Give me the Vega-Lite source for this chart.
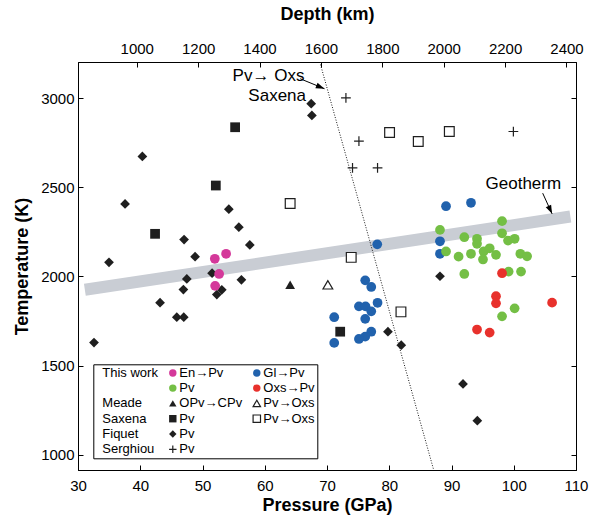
{
  "$schema": "https://vega.github.io/schema/vega-lite/v6.json",
  "width": 498,
  "height": 408,
  "autosize": "none",
  "padding": {"left": 78, "top": 62, "right": 14, "bottom": 46},
  "config": {
    "view": {"stroke": "black", "strokeWidth": 1},
    "font": "Liberation Sans",
    "axis": {
      "grid": false, "domainColor": "black", "domainWidth": 1, "tickColor": "black", "tickWidth": 1,
      "tickSize": -5, "labelPadding": 10, "labelFontSize": 15, "labelColor": "black",
      "labelFont": "Liberation Sans", "labelFlush": false, "labelOverlap": false, "format": "d",
      "titleFont": "Liberation Sans", "titleFontSize": 18, "titleFontWeight": "bold", "titleColor": "black"
    },
    "legend": {
      "labelFont": "Liberation Sans", "labelFontSize": 13, "labelColor": "black",
      "strokeColor": "black", "padding": 2, "fillColor": "white", "rowPadding": 1.3,
      "columnPadding": 8, "labelOffset": 0, "symbolOffset": -6, "symbolStrokeWidth": 1.2, "symbolSize": 55
    }
  },
  "datasets": {
    "pts": [
      {"s": "Fiquet|Pv", "P": 40.34, "T": 2673}, {"s": "Fiquet|Pv", "P": 37.56, "T": 2407},
      {"s": "Fiquet|Pv", "P": 47.04, "T": 2207}, {"s": "Fiquet|Pv", "P": 54.23, "T": 2377},
      {"s": "Fiquet|Pv", "P": 55.84, "T": 2276}, {"s": "Fiquet|Pv", "P": 57.6, "T": 2177},
      {"s": "Fiquet|Pv", "P": 48.81, "T": 2111}, {"s": "Fiquet|Pv", "P": 34.98, "T": 2079},
      {"s": "Fiquet|Pv", "P": 51.54, "T": 2018}, {"s": "Fiquet|Pv", "P": 47.48, "T": 1986},
      {"s": "Fiquet|Pv", "P": 56.25, "T": 1981}, {"s": "Fiquet|Pv", "P": 46.93, "T": 1926},
      {"s": "Fiquet|Pv", "P": 53.1, "T": 1925}, {"s": "Fiquet|Pv", "P": 52.3, "T": 1898},
      {"s": "Fiquet|Pv", "P": 43.18, "T": 1853}, {"s": "Fiquet|Pv", "P": 45.87, "T": 1771},
      {"s": "Fiquet|Pv", "P": 46.99, "T": 1771}, {"s": "Fiquet|Pv", "P": 32.57, "T": 1629},
      {"s": "Fiquet|Pv", "P": 67.46, "T": 2969}, {"s": "Fiquet|Pv", "P": 67.57, "T": 2903},
      {"s": "Fiquet|Pv", "P": 88.15, "T": 2001}, {"s": "Fiquet|Pv", "P": 79.79, "T": 1690},
      {"s": "Fiquet|Pv", "P": 81.93, "T": 1614}, {"s": "Fiquet|Pv", "P": 91.85, "T": 1397},
      {"s": "Fiquet|Pv", "P": 94.15, "T": 1191},
      {"s": "Saxena|Pv", "P": 55.24, "T": 2837}, {"s": "Saxena|Pv", "P": 52.14, "T": 2510},
      {"s": "Saxena|Pv", "P": 42.38, "T": 2239}, {"s": "Saxena|Pv", "P": 72.12, "T": 1690},
      {"s": "Serghiou|Pv", "P": 73.04, "T": 3002}, {"s": "Serghiou|Pv", "P": 75.13, "T": 2759},
      {"s": "Serghiou|Pv", "P": 74.1, "T": 2609}, {"s": "Serghiou|Pv", "P": 78.12, "T": 2609},
      {"s": "Serghiou|Pv", "P": 99.94, "T": 2813},
      {"s": "Saxena|Pv→Oxs", "P": 64.08, "T": 2409}, {"s": "Saxena|Pv→Oxs", "P": 80.05, "T": 2807},
      {"s": "Saxena|Pv→Oxs", "P": 84.66, "T": 2757}, {"s": "Saxena|Pv→Oxs", "P": 89.65, "T": 2813},
      {"s": "Saxena|Pv→Oxs", "P": 73.89, "T": 2107}, {"s": "Saxena|Pv→Oxs", "P": 81.88, "T": 1801},
      {"s": "Meade|OPv→CPv", "P": 64.08, "T": 1953},
      {"s": "Meade|Pv→Oxs", "P": 70.14, "T": 1953},
      {"s": "This work|En→Pv", "P": 51.98, "T": 2099}, {"s": "This work|En→Pv", "P": 53.79, "T": 2127},
      {"s": "This work|En→Pv", "P": 52.67, "T": 2014}, {"s": "This work|En→Pv", "P": 52.03, "T": 1947},
      {"s": "This work|Gl→Pv", "P": 89.12, "T": 2394}, {"s": "This work|Gl→Pv", "P": 93.13, "T": 2413},
      {"s": "This work|Gl→Pv", "P": 78.07, "T": 2180}, {"s": "This work|Gl→Pv", "P": 88.15, "T": 2197},
      {"s": "This work|Gl→Pv", "P": 88.15, "T": 2127}, {"s": "This work|Gl→Pv", "P": 76.14, "T": 1978},
      {"s": "This work|Gl→Pv", "P": 77.11, "T": 1941}, {"s": "This work|Gl→Pv", "P": 78.12, "T": 1852},
      {"s": "This work|Gl→Pv", "P": 75.13, "T": 1832}, {"s": "This work|Gl→Pv", "P": 76.19, "T": 1832},
      {"s": "This work|Gl→Pv", "P": 77.11, "T": 1804}, {"s": "This work|Gl→Pv", "P": 76.14, "T": 1762},
      {"s": "This work|Gl→Pv", "P": 71.16, "T": 1771}, {"s": "This work|Gl→Pv", "P": 77.11, "T": 1690},
      {"s": "This work|Gl→Pv", "P": 76.14, "T": 1662}, {"s": "This work|Gl→Pv", "P": 75.13, "T": 1649},
      {"s": "This work|Gl→Pv", "P": 71.16, "T": 1627},
      {"s": "This work|Pv", "P": 98.12, "T": 2310}, {"s": "This work|Pv", "P": 88.15, "T": 2261},
      {"s": "This work|Pv", "P": 98.12, "T": 2242}, {"s": "This work|Pv", "P": 92.06, "T": 2220},
      {"s": "This work|Pv", "P": 94.1, "T": 2211}, {"s": "This work|Pv", "P": 94.1, "T": 2183},
      {"s": "This work|Pv", "P": 99.08, "T": 2201}, {"s": "This work|Pv", "P": 100.14, "T": 2211},
      {"s": "This work|Pv", "P": 89.12, "T": 2140}, {"s": "This work|Pv", "P": 91.14, "T": 2111},
      {"s": "This work|Pv", "P": 93.13, "T": 2127}, {"s": "This work|Pv", "P": 95.16, "T": 2140},
      {"s": "This work|Pv", "P": 96.13, "T": 2158}, {"s": "This work|Pv", "P": 95.06, "T": 2095},
      {"s": "This work|Pv", "P": 97.15, "T": 2121}, {"s": "This work|Pv", "P": 101.06, "T": 2127},
      {"s": "This work|Pv", "P": 102.14, "T": 2113}, {"s": "This work|Pv", "P": 92.06, "T": 2014},
      {"s": "This work|Pv", "P": 99.18, "T": 2027}, {"s": "This work|Pv", "P": 101.17, "T": 2027},
      {"s": "This work|Pv", "P": 100.14, "T": 1821}, {"s": "This work|Pv", "P": 98.12, "T": 1776},
      {"s": "This work|Oxs→Pv", "P": 98.12, "T": 2018}, {"s": "This work|Oxs→Pv", "P": 97.15, "T": 1889},
      {"s": "This work|Oxs→Pv", "P": 97.15, "T": 1849}, {"s": "This work|Oxs→Pv", "P": 106.16, "T": 1853},
      {"s": "This work|Oxs→Pv", "P": 94.1, "T": 1702}, {"s": "This work|Oxs→Pv", "P": 96.13, "T": 1685}
    ],
    "geo": [{"P": 31.1, "T": 1925}, {"P": 109.1, "T": 2336}],
    "bound": [{"P": 68.84, "T": 3203}, {"P": 87.14, "T": 914}],
    "notes": [
      {"text": "Pv→ Oxs", "P": 60.6, "T": 3125},
      {"text": "Saxena", "P": 62.0, "T": 3015},
      {"text": "Geotherm", "P": 101.54, "T": 2520}
    ],
    "arrows": [
      {"name": "Saxena", "P": 65.7, "T": 3109, "P2": 69.6, "T2": 3053},
      {"name": "Geotherm", "P": 104.65, "T": 2467, "P2": 106.16, "T2": 2351}
    ]
  },
  "layer": [
    {
      "encoding": {
        "x": {"field": "P", "type": "quantitative", "scale": {"domain": [30, 110], "nice": false, "zero": false},
              "axis": {"values": [30, 40, 50, 60, 70, 80, 90, 100, 110], "title": "Pressure (GPa)", "labelPadding": 13, "titlePadding": 3}},
        "y": {"field": "T", "type": "quantitative", "scale": {"domain": [914, 3203], "nice": false, "zero": false},
              "axis": {"values": [1000, 1500, 2000, 2500, 3000], "title": "Temperature (K)", "labelPadding": 9, "titlePadding": 9}}
      },
      "layer": [
        {
          "data": {"name": "geo"},
          "mark": {"type": "line", "color": "#c9cdd4", "strokeWidth": 12, "strokeCap": "butt"}
        },
        {
          "data": {"name": "bound"},
          "mark": {"type": "line", "color": "black", "strokeWidth": 0.9, "strokeDash": [1, 1.6]}
        },
        {
          "data": {"name": "pts"},
          "mark": {"type": "point", "opacity": 1, "strokeWidth": 1.2, "size": 95},
          "encoding": {
            "fill": {
              "field": "s", "type": "nominal",
              "scale": {
                "domain": ["This work", "This work|En→Pv", "This work|Gl→Pv", "_1", "This work|Pv", "This work|Oxs→Pv", "Meade", "Meade|OPv→CPv", "Meade|Pv→Oxs", "Saxena", "Saxena|Pv", "Saxena|Pv→Oxs", "Fiquet", "Fiquet|Pv", "_2", "Serghiou", "Serghiou|Pv", "_3"],
                "range": ["transparent", "#d4399a", "#2162ad", "transparent", "#74bf45", "#e8312c", "transparent", "#1f1f1f", "white", "transparent", "#1f1f1f", "white", "transparent", "#1f1f1f", "transparent", "transparent", "transparent", "transparent"]
              },
              "legend": {
                "orient": "none", "legendX": 15.3, "legendY": 302.3, "columns": 3, "direction": "horizontal", "title": null,
                "labelExpr": "indexof(datum.value,'|') >= 0 ? split(datum.value,'|')[1] : (indexof(datum.value,'_') == 0 ? '' : datum.value)"
              }
            },
            "stroke": {
              "field": "s", "type": "nominal",
              "scale": {
                "domain": ["This work", "This work|En→Pv", "This work|Gl→Pv", "_1", "This work|Pv", "This work|Oxs→Pv", "Meade", "Meade|OPv→CPv", "Meade|Pv→Oxs", "Saxena", "Saxena|Pv", "Saxena|Pv→Oxs", "Fiquet", "Fiquet|Pv", "_2", "Serghiou", "Serghiou|Pv", "_3"],
                "range": ["transparent", "transparent", "transparent", "transparent", "transparent", "transparent", "transparent", "transparent", "#1f1f1f", "transparent", "transparent", "#1f1f1f", "transparent", "transparent", "transparent", "transparent", "#1f1f1f", "transparent"]
              },
              "legend": {
                "orient": "none", "legendX": 15.3, "legendY": 302.3, "columns": 3, "direction": "horizontal", "title": null,
                "labelExpr": "indexof(datum.value,'|') >= 0 ? split(datum.value,'|')[1] : (indexof(datum.value,'_') == 0 ? '' : datum.value)"
              }
            },
            "shape": {
              "field": "s", "type": "nominal",
              "scale": {
                "domain": ["This work", "This work|En→Pv", "This work|Gl→Pv", "_1", "This work|Pv", "This work|Oxs→Pv", "Meade", "Meade|OPv→CPv", "Meade|Pv→Oxs", "Saxena", "Saxena|Pv", "Saxena|Pv→Oxs", "Fiquet", "Fiquet|Pv", "_2", "Serghiou", "Serghiou|Pv", "_3"],
                "range": ["M6,0L6.1,0", "circle", "circle", "M6,0L6.1,0", "circle", "circle", "M6,0L6.1,0", "triangle-up", "triangle-up", "M6,0L6.1,0", "square", "square", "M6,0L6.1,0", "diamond", "M6,0L6.1,0", "M6,0L6.1,0", "M-1,0L1,0M0,-1L0,1", "M6,0L6.1,0"]
              },
              "legend": {
                "orient": "none", "legendX": 15.3, "legendY": 302.3, "columns": 3, "direction": "horizontal", "title": null,
                "labelExpr": "indexof(datum.value,'|') >= 0 ? split(datum.value,'|')[1] : (indexof(datum.value,'_') == 0 ? '' : datum.value)"
              }
            }
          }
        },
        {
          "data": {"name": "notes"},
          "mark": {"type": "text", "font": "Liberation Sans", "fontSize": 17, "color": "black", "align": "center", "baseline": "middle"},
          "encoding": {"text": {"field": "text"}}
        },
        {
          "data": {"name": "arrows"},
          "mark": {"type": "rule", "color": "black", "strokeWidth": 1},
          "encoding": {"x2": {"field": "P2"}, "y2": {"field": "T2"}}
        },
        {
          "data": {"name": "arrows"},
          "transform": [{"filter": "datum.name == 'Saxena'"}],
          "mark": {"type": "point", "shape": "M0,0L-0.34,1L0.34,1Z", "filled": true, "opacity": 1, "color": "black", "size": 300, "angle": 112},
          "encoding": {
            "x": {"field": "P2", "type": "quantitative"},
            "y": {"field": "T2", "type": "quantitative"}
          }
        },
        {
          "data": {"name": "arrows"},
          "transform": [{"filter": "datum.name == 'Geotherm'"}],
          "mark": {"type": "point", "shape": "M0,0L-0.34,1L0.34,1Z", "filled": true, "opacity": 1, "color": "black", "size": 300, "angle": 155},
          "encoding": {
            "x": {"field": "P2", "type": "quantitative"},
            "y": {"field": "T2", "type": "quantitative"}
          }
        }
      ]
    },
    {
      "data": {"values": [{"D": 1600, "T": 2000}]},
      "mark": {"type": "point", "opacity": 0},
      "encoding": {
        "x": {"field": "D", "type": "quantitative", "scale": {"domain": [808.6, 2431], "nice": false, "zero": false},
              "axis": {"orient": "top", "values": [1000, 1200, 1400, 1600, 1800, 2000, 2200, 2400], "title": "Depth (km)", "labelPadding": 11, "titlePadding": 18}},
        "y": {"field": "T", "type": "quantitative", "scale": {"domain": [914, 3203], "nice": false, "zero": false},
              "axis": {"orient": "right", "values": [1000, 1500, 2000, 2500, 3000], "labels": false, "title": null}}
      }
    }
  ],
  "resolve": {"scale": {"x": "independent", "y": "independent"}}
}
